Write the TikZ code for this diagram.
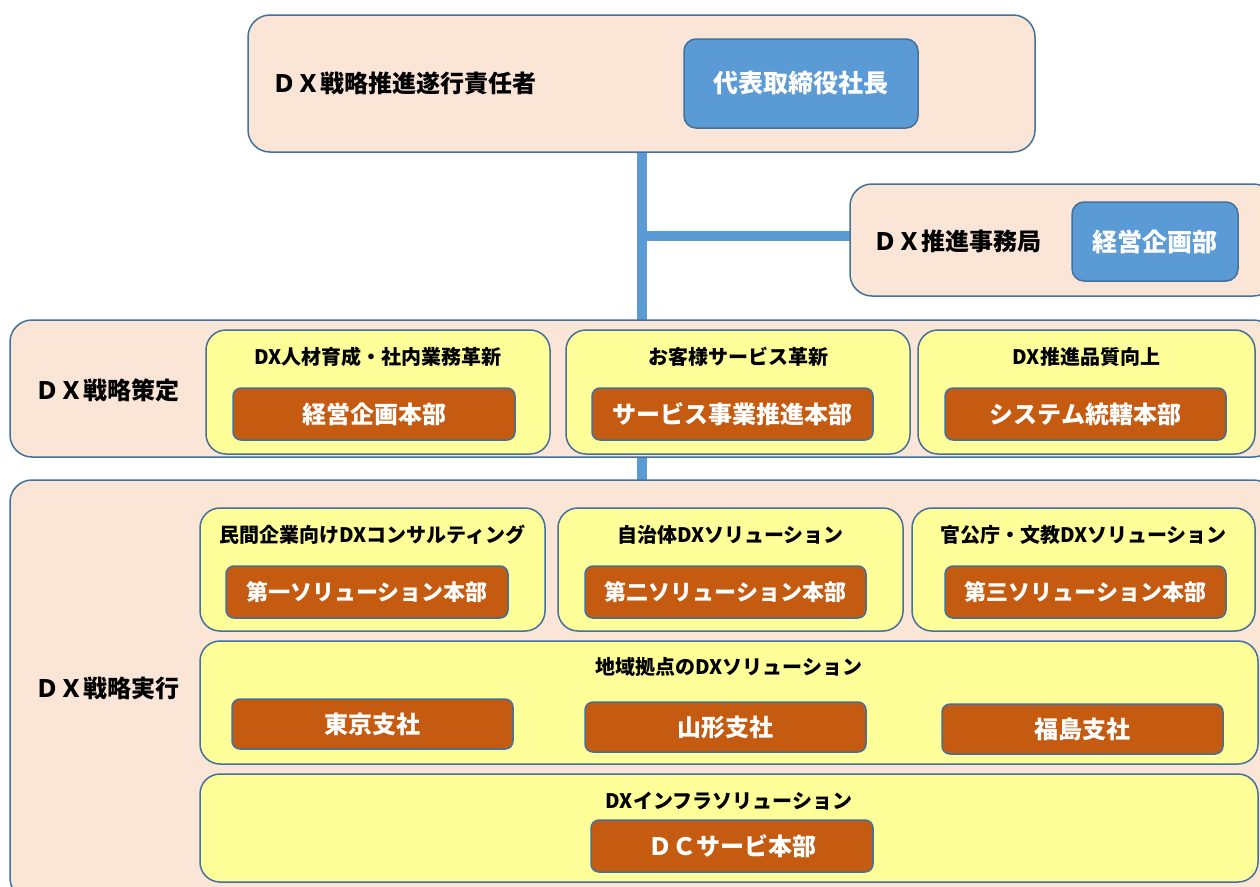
\documentclass[tikz,border=0pt]{standalone}
\usepackage{fontspec}
\setmainfont{Noto Sans CJK JP}
\usetikzlibrary{backgrounds}
\definecolor{peach}{HTML}{FBE5D6}
\definecolor{bordc}{HTML}{41719C}
\definecolor{blu}{HTML}{5B9BD5}
\definecolor{yel}{HTML}{FFFF99}
\definecolor{org}{HTML}{C55A11}
\newcommand{\fs}[1]{\fontsize{#1}{#1}\selectfont\bfseries}
\tikzset{
  grp/.style={draw=bordc, fill=peach, line width=1.5pt, rounded corners=22pt, inner sep=0pt, outer sep=0pt},
  ybox/.style={draw=bordc, fill=yel, line width=1.5pt, rounded corners=20pt, inner sep=0pt, outer sep=0pt},
  obox/.style={draw=bordc, fill=org, line width=1.5pt, rounded corners=8pt, inner sep=0pt, outer sep=0pt, text=white, font=\fs{24}},
  obsm/.style={obox, font=\fs{22}},
  bbox/.style={draw=bordc, fill=blu, line width=1.5pt, rounded corners=12pt, inner sep=0pt, outer sep=0pt, text=white, font=\fs{25}},
  lbl/.style={anchor=west, inner sep=0pt, font=\fs{24}},
  ttl/.style={inner sep=0pt, font=\fs{20}},
  conn/.style={draw=blu, line width=10pt},
}
\begin{document}
\begin{tikzpicture}[x=1pt,y=-1pt]
\begin{scope}[on background layer]
\fill[white] (0,0) rectangle (1260,886);
\end{scope}
\useasboundingbox (0,0) rectangle (1260,886);
% groups
\node[grp, minimum width=787, minimum height=137] (top) at (641.5,83.5) {};
\node[grp, minimum width=425, minimum height=112] (jimu) at (1062.5,240) {};
\node[grp, minimum width=1265, minimum height=137] (strat) at (642.5,388.5) {};
\node[grp, minimum width=1265, minimum height=420] (exec) at (642.5,690) {};

\node[lbl] (ltop) at (272,83) {ＤＸ戦略推進遂行責任者};
\node[bbox, minimum width=234, minimum height=89] (pres) at (801,83.5) {代表取締役社長};
\node[lbl] (ljimu) at (873,241) {ＤＸ推進事務局};
\node[bbox, minimum width=166, minimum height=79] (keiei) at (1155,241.5) {経営企画部};

% strategy
\node[lbl] (lstrat) at (35,390) {ＤＸ戦略策定};
\node[ybox, minimum width=344, minimum height=124] (s1) at (378,392) {};
\node[ybox, minimum width=344, minimum height=124] (s2) at (738,392) {};
\node[ybox, minimum width=337, minimum height=124] (s3) at (1086.5,392) {};
\node[ttl] (t1) at (378,357) {DX人材育成・社内業務革新};
\node[ttl] (t2) at (738,357) {お客様サービス革新};
\node[ttl] (t3) at (1086.5,357) {DX推進品質向上};
\node[obox, minimum width=282, minimum height=52] (o1) at (374,414) {経営企画本部};
\node[obox, minimum width=281, minimum height=52] (o2) at (732.5,414) {サービス事業推進本部};
\node[obox, minimum width=281, minimum height=52] (o3) at (1085.5,414) {システム統轄本部};

% execution
\node[lbl] (lexec) at (35,688) {ＤＸ戦略実行};
\node[ybox, minimum width=345, minimum height=123] (e1) at (372.5,569.5) {};
\node[ybox, minimum width=345, minimum height=123] (e2) at (730.5,569.5) {};
\node[ybox, minimum width=343, minimum height=123] (e3) at (1083.5,569.5) {};
\node[ttl] (u1) at (372.5,535) {民間企業向けDXコンサルティング};
\node[ttl] (u2) at (730.5,535) {自治体DXソリューション};
\node[ttl] (u3) at (1083.5,535) {官公庁・文教DXソリューション};
\node[obsm, minimum width=282, minimum height=52] (p1) at (367,592) {第一ソリューション本部};
\node[obsm, minimum width=281, minimum height=52] (p2) at (725.5,592) {第二ソリューション本部};
\node[obsm, minimum width=281, minimum height=52] (p3) at (1085.5,592) {第三ソリューション本部};

\node[ybox, minimum width=1058, minimum height=123] (e4) at (729,702.5) {};
\node[ttl] (u4) at (729,667) {地域拠点のDXソリューション};
\node[obox, minimum width=281, minimum height=50] (q1) at (372.5,724) {東京支社};
\node[obox, minimum width=281, minimum height=50] (q2) at (725.5,727) {山形支社};
\node[obox, minimum width=281, minimum height=50] (q3) at (1082.5,729) {福島支社};

\node[ybox, minimum width=1058, minimum height=108] (e5) at (729,828) {};
\node[ttl] (u5) at (729,801) {DXインフラソリューション};
\node[obox, minimum width=282, minimum height=52] (dc) at (732,846) {ＤＣサービ本部};

% connectors behind the boxes
\begin{scope}[on background layer]
\draw[conn] (top.south) -- (top.south |- exec.north);
\coordinate (br) at (top.south |- 0,236);
\draw[conn] (br) -- (jimu.west |- br);
\end{scope}
\end{tikzpicture}
\end{document}
